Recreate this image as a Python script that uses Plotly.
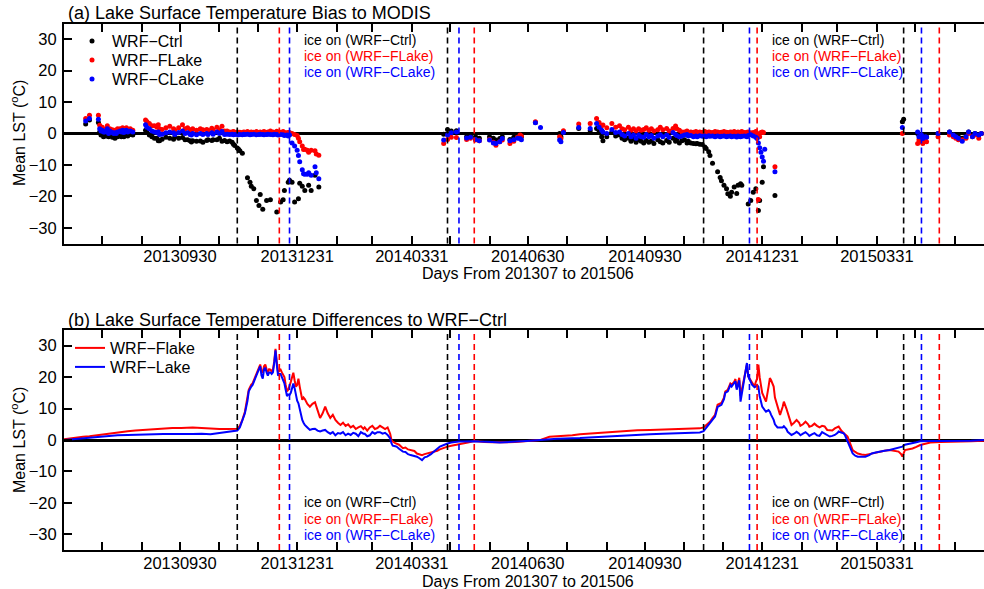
import pandas as pd
import plotly.graph_objects as go

START = pd.Timestamp("2013-07-01")

# ---------------- panel (a): LST bias to MODIS (day offsets from 2013-07-01) ----------------
obs_days = [17, 20, 27, 28, 29, 30, 31, 32, 33, 34, 35, 36, 38, 39, 40, 41, 42, 44, 45, 46, 47, 48, 49, 50, 52, 54,
            64, 65, 67, 69, 71, 73, 74, 75, 77, 80, 83, 86, 87, 90, 93, 95, 97, 99, 100, 101, 104, 107, 109, 112,
            113, 116, 117, 120, 122, 124, 126, 128, 130, 132, 133, 134, 136, 137, 138, 140,
            141, 142, 144, 146, 147, 149, 151, 153, 154, 156, 157, 159, 160, 162, 164, 165, 167, 168, 170, 172,
            173, 175, 176, 177, 179, 181, 183, 184, 185, 187, 188, 189, 191, 192, 194, 197, 198, 200,
            298, 301, 304, 308, 316, 319, 323, 326, 334, 337, 339, 342, 344, 350, 353, 356, 358, 359, 370, 374,
            389, 390, 392, 404, 413, 418, 420, 422, 423, 426, 430, 433, 436, 438, 440, 443, 445, 447, 449, 451,
            453, 455, 457, 459, 461, 463, 466, 468, 470, 473, 475, 478, 480, 481, 483, 485,
            487, 489, 490, 492, 494, 496, 497, 499, 501, 503, 504, 506, 507, 509, 511, 513, 515, 516, 518, 520,
            521, 523, 524, 526, 528, 529, 531, 532, 534, 536, 537, 539, 541, 543, 544, 545, 546, 547, 548, 549,
            550, 558,
            658, 659, 670, 671, 673, 674, 676, 677, 686, 695, 698, 700, 702, 705, 708, 710, 713, 715, 718, 720]

bias_ctrl = [3, 4.3, 3.5, 0.5, -0.5, 0, -1, -0.5, -0.8, 0.3, -1, -0.5, -1.2, -0.8, -1.5, -1, -1, -0.5, -1, -0.3,
             -1, -0.5, 0, -0.8, -0.3, -0.5,
             1.0, 0.3, -0.5, -1.0, -1.5, -1.5, -2.3, -2.3, -1.8, -1.2, -1.5, -1.8, -1.0, -1.5, -1.3, -2.0, -2.0,
             -2.3, -2.7, -2.3, -2.5, -2.4, -2.8, -2.2, -2.0, -2.2, -2.0, -2.0, -1.5, -2.5, -2.2, -2.6, -2.4, -2.8,
             -3.4, -3.8, -4.6, -5.0, -5.5, -6.3,
             None, None, -14.1, -15.5, -16.8, -17.6, -21.3, -22.9, -19.4, -24.1, None, -21.3, None, -21.1, None,
             None, -25.0, None, -21.8, -21.1, -18.1, None, -15.5, -14.9, -15.5, -21.8, None, -20.8, -15.8, -16.8,
             None, -18.1, None, -16.5, -18.1, -13.3, None, -17.0,
             -0.2, 1.3, 0.8, 0.9, -1.0, -0.8, -1.0, -1.5, -1.0, -1.5, -2.1, -1.6, -1.0, -1.9, -1.2, -0.5, -0.5,
             -1.0, 3.5, None, 0.0, -1.0, 0.5, 1.6, 0.9, 1.6, 0.5, -1.0, -2.3, -1.0, 0.5, -0.8, -0.5, -1.5, -2.0,
             -1.5, -2.5, -1.8, -2.8, -2.0, -2.5, -3.0, -2.2, -2.8, -2.4, -3.2, -2.0, -2.6, -3.0, -2.2, -2.8, -1.5,
             -2.5, -1.8, -3.0, -2.3,
             -2.0, -3.0, -2.5, -3.0, -3.2, -3.3, -3.2, -3.4, -3.5, -4.3, -4.8, -5.8, -7.0, -9.5, None, -12.2,
             -14.0, -15.0, -16.5, -17.6, -19.2, -20.0, -18.7, -17.0, -19.1, -16.5, -16.0, -16.5, None, None, -22.4,
             -21.3, -18.7, -17.6, None, -24.5, -21.3, None, -15.5, -10.6, None, -19.7,
             3.7, 4.5, 0.0, -0.5, -1.0, -1.2, -0.8, -1.0, 0.0, 0.5, -0.3, -0.5, -1.0, -1.5, -0.5, 0.5, -0.5, 0.0,
             -0.5, 0.0]

bias_flake = [4.8, 5.8, 5.8, 2.6, 1.5, 2, 1.2, 1, 1.5, 2.5, 0.8, 1.5, 1.2, 0.8, 1, 0.8, 1.5, 1.5, 1.2, 1.8,
              1, 1.5, 1.8, 1.2, 1.5, 1,
              4.3, 3.8, 3.2, 2.5, 2.5, 2.0, 2.8, 1.5, 1.3, 1.8, 2.3, 1.5, 1.0, 1.8, 2.8, 1.5, 1.8, 1.2, 1.0, 1.5,
              1.0, 1.5, 1.2, 1.3, 1.0, 1.7, 1.2, 2.0, 1.2, 2.3, 0.8, 0.8, 0.5, 0.5, 0.6, 0.4, 0.5, 0.3, 0.4, 0.3,
              0.5, 0.4, 0.6, 0.3, 0.5, 0.4, 0.6, 0.3, 0.5, 0.4, 0.6, 0.3, 0.5, 0.8, 0.5, 0.3, 0.7, 0.5, 0.4, 0.6,
              0.3, 0.2, 0.3, 0.3, 0.0, -0.3, -0.6, -1.5, -2.6, -4.0, -5.1, -5.0, -5.3, -6.0, -5.3, -5.5, -6.5, -6.9,
              -3.2, -1.9, -1.2, -1.3, -1.9, -1.5, -2.1, -2.3, -1.9, -2.8, -3.7, -2.6, -2.1, -3.2, -2.5, -1.2, -0.5,
              -0.8, 3.7, None, -1.0, -1.6, 0.9, 3.0, 3.2, 4.8, 3.5, 2.5, 2.7, 1.8, 3.2, 2.0, 2.5, 1.5, 1.2, 2.0, 1.0,
              1.5, 0.8, 1.5, 1.0, 1.3, 1.8, 1.0, 1.5, 0.8, 1.2, 2.0, 1.2, 1.6, 0.8, 1.6, 2.4, 1.5, 1.0, 0.5,
              0.5, 0.8, 0.3, 0.5, 0.4, 0.6, 0.3, 0.5, 0.4, 0.6, 0.3, 0.5, 0.4, 0.3, 0.6, 0.5, 0.3, 0.4, 0.6, 0.4,
              0.3, 0.5, 0.4, 0.6, 0.3, 0.5, 0.4, 0.6, 0.3, 0.4, 0.5, 0.2, 0.3, 0.6, 0.0, -21.0, -1.0, 0.3, 0.5,
              0.3, None, -10.6,
              0.0, None, -3.2, -2.0, -2.6, -3.2, -2.1, -2.6, -1.0, -0.5, -1.0, -1.5, -2.0, -2.0, -1.5, 0.0, -1.0,
              -0.5, -1.5, 0.0]

bias_clake = [4, 4.8, 4.5, 1.5, 0.8, 1, 0.5, 0.5, 0.8, 1.5, 0, 0.8, 0.3, 0, 0.2, 0, 0.5, 0.8, 0.5, 1, 0.3, 0.8,
              1, 0.5, 0.8, 0.5,
              2.8, 2.0, 1.5, 0.8, 0.5, 0.3, 0.5, -0.3, -0.2, 0.2, 0.5, 0.2, -0.3, 0.3, 0.8, 0, 0.2, -0.3, -0.5, 0,
              -0.4, 0, -0.3, 0, -0.3, 0.2, -0.2, 0.5, 0, 0.6, -0.3, -0.2, -0.3, -0.2, -0.4, -0.3, -0.3, -0.4, -0.3,
              -0.4,
              -0.2, -0.3, -0.2, -0.4, -0.3, -0.2, -0.4, -0.3, -0.2, -0.3, -0.4, -0.3, -0.2, -0.3, -0.4, -0.2, -0.3,
              -0.5, -0.3, -0.4, -0.6, -0.5, -0.8, -0.5, -3.0, -4.0, -5.3, -7.0, -9.0, -11.5, -12.8, -13.0, -13.0,
              -12.5, -13.3, -10.6, -12.5, -14.4,
              -2.1, -0.5, 0.2, 0.5, -1.4, -1.2, -1.9, -2.3, -2.1, -3.0, -3.2, -2.6, -1.6, -2.3, -2.0, -1.5, -1.6,
              -2.0, 3.4, 1.9, -2.1, -2.6, 0.3, 1.9, 1.6, 3.2, 2.0, 1.0, 0.5, 0.0, 1.3, 0.3, 0.5, -0.3, -0.8, 0.0,
              -1.0, -0.5, -1.5, -0.5, -1.0, -1.2, -0.3, -1.0, -0.6, -1.5, -0.8, -0.4, -1.0, -0.5, -1.2, 0.3, -0.3,
              -0.6, -1.0, -0.8,
              -0.5, -0.3, -0.8, -0.6, -1.0, -0.8, -1.0, -0.7, -0.9, -0.8, -1.0, -0.7, -0.9, -0.8, -1.0, -0.8, -1.0,
              -0.9, -0.8, -1.0, -0.9, -0.8, -1.0, -0.9, -1.1, -0.8, -1.0, -0.9, -0.8, -1.0, -0.6, -0.4, -0.8, -1.2,
              -1.6, -3.0, -4.5, -6.0, -7.5, -8.8, -5.0, -12.2,
              1.9, None, 0.5, -1.0, -0.5, -1.6, -1.0, -1.2, 0.0, 0.5, -0.5, -1.0, -1.5, -2.5, -1.0, 0.5, -1.0, 0.0,
              -0.5, 0.0]

# ---------------- panel (b): LST differences to WRF-Ctrl ----------------
diff_days = [0, 5, 10, 15, 20, 25, 30, 36, 42, 50, 56, 62, 70, 78, 85, 92, 101, 108, 115, 122,
             128, 133, 136, 138, 140, 142, 144, 145, 147, 148, 150, 152, 153, 154, 155, 156, 157, 158, 159, 160,
             161, 162, 163, 164, 165, 166, 167, 168, 169, 170, 171, 172, 173, 174, 175, 176, 177, 178, 179, 180,
             181, 182, 183, 184, 185, 186, 187, 188, 189, 191, 193, 195, 197, 199, 201, 203, 205, 207, 209, 211,
             213, 215, 217, 219, 221, 223, 225, 227, 229, 231, 233, 235, 236, 238, 240, 242, 244, 246, 248, 250,
             252, 254, 256, 257, 258, 260, 261, 263, 266, 268, 270, 272, 275, 277, 279, 281, 283, 285, 288, 290,
             293, 295, 298, 301, 304, 307, 310, 313, 317, 322, 326, 330, 336, 342, 348, 354, 360, 366, 374, 381,
             387, 393, 399, 405, 412, 420, 430, 440, 450, 460, 470, 480, 490, 499, 502, 505, 507, 509, 511, 513,
             515, 516, 518, 519, 521, 523, 524, 526, 527, 528, 530, 531, 532, 534, 535, 536, 537, 539, 540, 542,
             543, 544, 545, 546, 548, 550, 551, 553, 554, 555, 557, 558, 560, 562, 564, 565, 567, 568, 570, 571,
             573, 575, 577, 578, 580, 582, 584, 585, 587, 589, 591, 593, 595, 597, 599, 601, 603, 605, 607, 608,
             610, 612, 613, 615, 617, 619, 621, 623, 626, 629, 632, 634, 637, 640, 644, 648, 652, 655, 657, 658,
             660, 663, 666, 669, 672, 676, 680, 688, 696, 703, 712, 722]

diff_flake = [0.2, 0.5, 0.9, 1.0, 1.2, 1.5, 1.8, 2.2, 2.5, 2.8, 3.0, 3.2, 3.5, 3.6, 3.8, 3.8, 4.0, 3.8, 3.6, 3.5,
              3.5, 3.5, 3.6, 4.5, 6.4, 9.0, 13.0, 16.0, 17.6, 18.0, 20.0, 22.0, 23.5, 24.0, 22.0, 21.4, 23.5, 24.0,
              22.5, 21.5,
              22.5, 22.4, 21.8, 22.5, 25.0, 29.0, 25.0, 21.5, 22.0, 22.4, 21.5, 20.8, 20.0, 17.5, 15.5, 16.0, 17.0,
              18.5, 20.0, 21.4,
              19.0, 17.0, 17.5, 19.5, 17.0, 14.5, 12.8, 13.5, 13.0, 11.5, 10.6, 11.5, 12.0, 9.5, 7.0, 8.5, 10.6, 8.5,
              7.0, 8.0,
              6.4, 5.5, 4.8, 5.5, 4.5, 5.0, 4.0, 4.5, 3.5, 4.0, 4.4, 3.5, 4.0, 3.0, 4.0, 4.5, 3.5, 3.8, 4.5, 4.0,
              3.5, 4.0, 2.0, 0.0, -0.5, -1.0, -1.1, -1.5, -2.6, -2.4, -3.0, -3.2, -3.5, -4.3, -4.5, -4.8, -4.5, -4.3,
              -4.0, -3.7,
              -3.4, -3.0, -2.5, -2.1, -1.8, -1.6, -1.3, -1.1, -0.8, -0.3, -0.5, -0.6, -0.7, -0.8, -0.7, -0.6, -0.4,
              -0.3, 0.0, 1.0,
              1.1, 1.3, 1.5, 1.8, 2.0, 2.3, 2.6, 2.9, 3.1, 3.2, 3.3, 3.4, 3.5, 3.7, 4.0, 5.0, 5.8, 7.0, 8.0, 11.2,
              11.5, 11.8, 13.5, 15.4, 16.0, 18.0, 17.6, 18.5, 19.4, 16.5, 19.8, 14.0, 16.0, 20.3, 22.5, 24.0, 20.3,
              19.0, 18.0, 17.0,
              18.5, 19.5, 24.0, 20.0, 15.0, 13.0, 12.2, 17.0, 19.7, 19.0, 17.0, 13.5, 10.6, 8.0, 10.5, 12.2, 10.0,
              8.5, 6.0, 4.8,
              5.5, 6.4, 5.5, 4.5, 5.0, 5.8, 5.0, 4.2, 4.5, 5.2, 4.5, 4.0, 4.5, 4.3, 3.2, 3.2, 3.0, 3.7, 4.0, 4.3,
              3.0, 2.1, 1.8, 1.1, -1.0, -3.2, -3.8, -4.3, -4.6, -4.8, -4.5, -4.3, -4.0, -3.7, -3.4, -3.2, -3.4, -3.7,
              -4.5, -5.3,
              -3.2, -3.0, -2.7, -2.2, -1.6, -1.2, -0.8, -0.6, -0.6, -0.5, -0.4, -0.2]

diff_clake = [0.0, 0.2, 0.3, 0.5, 0.7, 0.9, 1.1, 1.3, 1.5, 1.6, 1.7, 1.6, 1.8, 1.9, 1.9, 1.8, 1.9, 2.0, 1.8, 2.2,
              2.5, 2.7, 3.0, 4.0, 6.0, 8.5, 12.5, 15.5, 17.0, 17.5, 19.5, 21.5, 22.5, 23.5, 20.5, 19.5, 22.5, 23.0,
              21.5, 20.5,
              21.5, 21.5, 21.0, 21.5, 24.5, 28.5, 24.0, 20.5, 21.0, 21.0, 20.0, 19.0, 18.0, 16.0, 14.0, 14.5, 14.3,
              15.0, 17.0, 18.0,
              16.5, 13.7, 12.5, 11.7, 9.5, 8.0, 6.4, 5.5, 4.8, 4.0, 3.2, 3.5, 3.6, 3.0, 2.7, 3.0, 3.2, 2.5, 2.0, 2.5,
              1.5, 2.2, 2.0, 2.5, 1.5, 2.0, 1.6, 2.3, 2.0, 1.2, 2.5, 2.0, 2.0, 1.2, 1.5, 2.5, 2.0, 2.5, 2.5, 2.0,
              2.3, 1.6, 0.5, -1.0, -1.8, -2.0, -2.1, -2.8, -3.7, -3.8, -4.5, -4.8, -5.0, -5.3, -5.8, -6.4, -5.5, -5.3,
              -4.5, -3.7,
              -2.8, -2.1, -1.5, -1.1, -0.8, -0.6, -0.5, -0.5, -0.4, -0.4, -0.5, -0.5, -0.6, -0.8, -0.7, -0.6, -0.4,
              -0.2, 0.0, 0.3,
              0.4, 0.5, 0.5, 0.6, 0.8, 1.0, 1.2, 1.5, 1.6, 1.8, 2.0, 2.1, 2.3, 2.4, 2.8, 4.5, 5.5, 6.5, 7.5, 10.5,
              11.0, 11.2, 13.0, 15.0, 15.5, 17.5, 17.0, 18.0, 18.7, 16.0, 19.0, 12.2, 14.5, 19.5, 21.5, 24.5, 20.3,
              18.5, 17.6, 16.8,
              17.0, 17.5, 17.0, 14.0, 10.6, 9.5, 9.0, 9.5, 9.0, 8.0, 6.4, 5.0, 4.0, 4.0, 4.0, 4.4, 3.5, 2.6, 2.0, 1.6,
              2.0, 2.6, 2.0, 1.5, 2.0, 2.5, 1.8, 1.3, 1.8, 2.2, 1.5, 1.3, 2.5, 2.0, 1.5, 1.1, 1.3, 1.6, 2.2, 2.7,
              2.4, 2.1, 1.5, -0.5, -2.5, -4.3, -5.0, -5.3, -5.3, -5.3, -4.8, -4.3, -4.0, -3.7, -3.4, -3.2, -2.8, -2.5,
              -2.3, -2.1,
              -1.5, -1.3, -1.1, -0.7, -0.4, -0.3, -0.3, -0.3, -0.3, -0.3, -0.2, 0.0]

# ---------------- ice-on dates ----------------
ice_on_ctrl = ["2013-11-14", "2014-04-28", "2014-11-15", "2015-04-21"]
ice_on_flake = ["2013-12-17", "2014-05-19", "2014-12-27", "2015-05-19"]
ice_on_clake = ["2013-12-25", "2014-05-07", "2014-12-21", "2015-05-05"]

# ---------------- x ticks ----------------
tick_dates = ["2013-07-31", "2013-08-31", "2013-09-30", "2013-10-31", "2013-11-30", "2013-12-31",
              "2014-01-31", "2014-02-28", "2014-03-31", "2014-04-30", "2014-05-31", "2014-06-30",
              "2014-07-31", "2014-08-31", "2014-09-30", "2014-10-31", "2014-11-30", "2014-12-31",
              "2015-01-31", "2015-02-28", "2015-03-31", "2015-04-30", "2015-05-31"]
tick_labels = ["", "", "20130930", "", "", "20131231", "", "", "20140331", "", "", "20140630",
               "", "", "20140930", "", "", "20141231", "", "", "20150331", "", ""]

assert len(obs_days) == len(bias_ctrl) == len(bias_flake) == len(bias_clake)
assert len(diff_days) == len(diff_flake) == len(diff_clake)

obs_dates = [START + pd.Timedelta(days=d) for d in obs_days]
diff_dates = [START + pd.Timedelta(days=d) for d in diff_days]

BLACK, RED, BLUE = "#000000", "#ff0000", "#0000ff"
FONT = "Liberation Sans, Arial, Helvetica, sans-serif"
W, H = 984, 589
ML = 64
PW = W - ML


def px_x(p):
    return (p - ML) / PW


def px_y(p):
    return 1 - p / H


fig = go.Figure()

# panel (a) scatter series / panel (b) lines, each with its own single-item legend box
scatter_specs = [("WRF\u2212Ctrl", bias_ctrl, BLACK, "legend", 41),
                 ("WRF\u2212FLake", bias_flake, RED, "legend2", 60),
                 ("WRF\u2212CLake", bias_clake, BLUE, "legend3", 79)]
line_specs = [("WRF\u2212Flake", diff_flake, RED, "legend4", 348),
              ("WRF\u2212Lake", diff_clake, BLUE, "legend5", 367)]

legend_layout = {}
for name, vals, col, lg, row in scatter_specs:
    fig.add_trace(go.Scatter(x=obs_dates, y=vals, mode="markers", name=name,
                             marker=dict(color=col, size=5), xaxis="x", yaxis="y", legend=lg))
    legend_layout[lg] = dict(x=px_x(72), y=px_y(row), xanchor="left", yanchor="middle",
                             bgcolor="rgba(0,0,0,0)", font=dict(family=FONT, size=16, color=BLACK),
                             itemwidth=30)
for name, vals, col, lg, row in line_specs:
    fig.add_trace(go.Scatter(x=diff_dates, y=vals, mode="lines", name=name,
                             line=dict(color=col, width=2), xaxis="x2", yaxis="y2", legend=lg))
    legend_layout[lg] = dict(x=px_x(70), y=px_y(row), xanchor="left", yanchor="middle",
                             bgcolor="rgba(0,0,0,0)", font=dict(family=FONT, size=16, color=BLACK),
                             itemwidth=30)

x_range = ["2013-07-01", "2015-06-23 02:00"]
xcommon = dict(type="date", range=x_range, tickmode="array", tickvals=tick_dates, ticktext=tick_labels,
               ticks="inside", ticklen=8, tickwidth=1.5, tickcolor=BLACK, showline=True, linewidth=2,
               linecolor=BLACK, mirror="allticks", showgrid=False, zeroline=False,
               tickfont=dict(family=FONT, size=16.5, color=BLACK), automargin=False, domain=[0, 1],
               ticklabelstandoff=-3)
ycommon = dict(range=[-35, 35], tickmode="array", tickvals=[-30, -20, -10, 0, 10, 20, 30],
               ticks="inside", ticklen=8, tickwidth=1.5, tickcolor=BLACK, showline=True, linewidth=2,
               linecolor=BLACK, mirror=False, showgrid=False, zeroline=True, zerolinecolor=BLACK,
               zerolinewidth=2.5, tickfont=dict(family=FONT, size=16.5, color=BLACK), automargin=False,
               ticklabelstandoff=2)

fig.update_layout(
    width=W, height=H, margin=dict(l=ML, r=0, t=0, b=0),
    paper_bgcolor="white", plot_bgcolor="white", template="none",
    font=dict(family=FONT, color=BLACK),
    xaxis=dict(anchor="y", **xcommon),
    xaxis2=dict(anchor="y2", **xcommon),
    yaxis=dict(anchor="x", domain=[px_y(243.5), px_y(23.5)], **ycommon),
    yaxis2=dict(anchor="x2", domain=[px_y(550), px_y(330)], **ycommon),
    showlegend=True,
    **legend_layout,
)

shapes = []
for yref in ["y domain", "y2 domain"]:
    xref = "x" if yref == "y domain" else "x2"
    for dates, col in [(ice_on_ctrl, BLACK), (ice_on_flake, RED), (ice_on_clake, BLUE)]:
        for d in dates:
            shapes.append(dict(type="line", xref=xref, yref=yref, x0=d, x1=d, y0=0, y1=1,
                               line=dict(color=col, width=1.6, dash="6px,4px")))
fig.update_layout(shapes=shapes)

ann = []
ann.append(dict(text="(a) Lake Surface Temperature Bias to MODIS", x=px_x(66), y=px_y(13),
                xanchor="left", yanchor="middle", font=dict(size=18)))
ann.append(dict(text="(b) Lake Surface Temperature Differences to WRF\u2212Ctrl", x=px_x(66), y=px_y(320),
                xanchor="left", yanchor="middle", font=dict(size=18)))
for yy in [274, 581]:
    ann.append(dict(text="Days From 201307 to 201506", x=px_x(528), y=px_y(yy),
                    xanchor="center", yanchor="middle", font=dict(size=16)))
for yy in [133, 440]:
    ann.append(dict(text="Mean LST (<sup>o</sup>C)", x=px_x(18), y=px_y(yy), textangle=-90,
                    xanchor="center", yanchor="middle", font=dict(size=16)))
ice_texts = [("ice on (WRF\u2212Ctrl)", BLACK), ("ice on (WRF\u2212FLake)", RED), ("ice on (WRF\u2212CLake)", BLUE)]
for xs in [302, 770]:
    for ys in [(40, 56, 72), (502, 519, 535)]:
        for (txt, col), yy in zip(ice_texts, ys):
            ann.append(dict(text=txt, x=px_x(xs), y=px_y(yy), xanchor="left", yanchor="middle",
                            font=dict(size=14, color=col)))
for a in ann:
    a.setdefault("xref", "paper")
    a.setdefault("yref", "paper")
    a["showarrow"] = False
    a["font"].setdefault("family", FONT)
    a["font"].setdefault("color", BLACK)
fig.update_layout(annotations=ann)

fig.write_html("out.html")
